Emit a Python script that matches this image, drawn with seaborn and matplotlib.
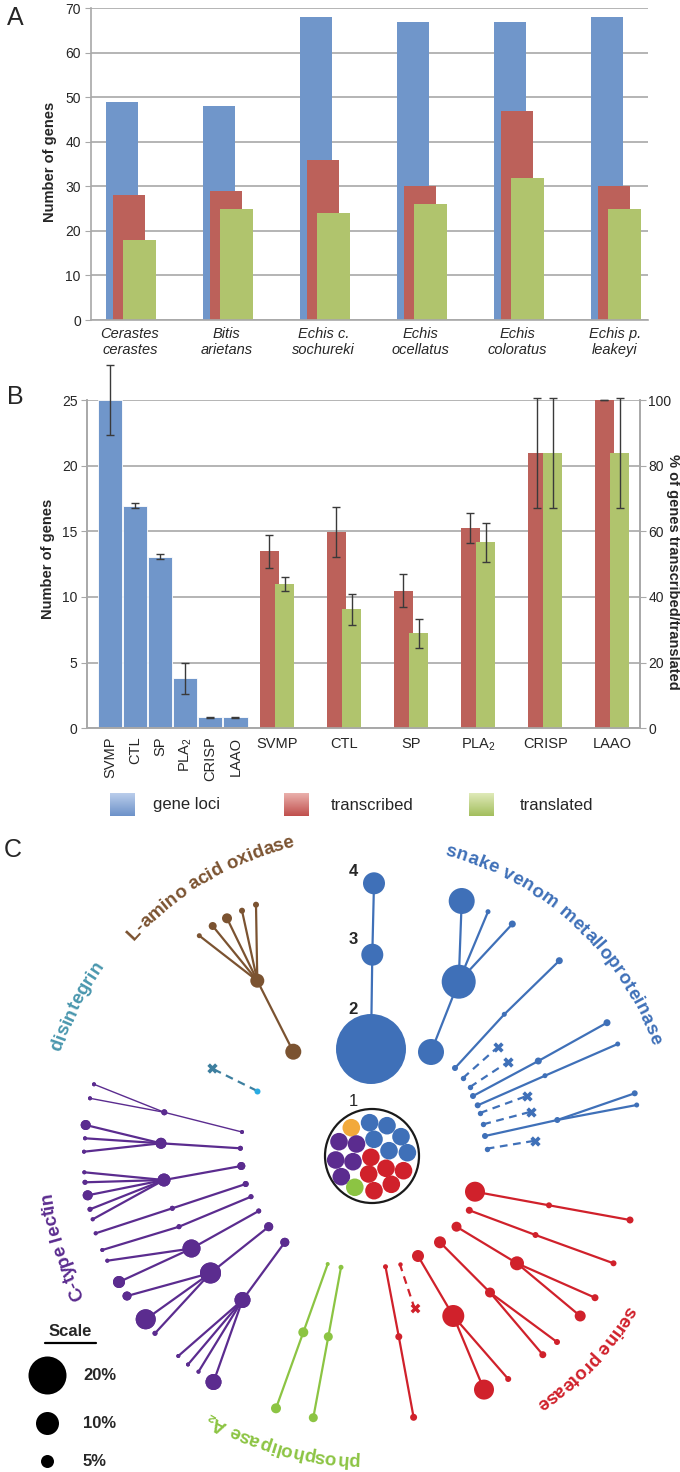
import numpy as np
import pandas as pd
import matplotlib
matplotlib.use("Agg")
import matplotlib.pyplot as plt
import seaborn as sns
from matplotlib.colors import LinearSegmentedColormap
from matplotlib.font_manager import FontProperties, findfont, get_font

# ---------------- panel A data
species = ["Cerastes\ncerastes", "Bitis\narietans", "Echis c.\nsochureki",
           "Echis\nocellatus", "Echis\ncoloratus", "Echis p.\nleakeyi"]
loci_a = [49, 48, 68, 67, 67, 68]
transcribed_a = [28, 29, 36, 30, 47, 30]
translated_a = [18, 25, 24, 26, 32, 25]

# ---------------- panel B data
toxins = ["SVMP", "CTL", "SP", "PLA$_2$", "CRISP", "LAAO"]
loci_b = [25.0, 16.95, 13.07, 3.8, 0.85, 0.85]
loci_b_err = [2.7, 0.2, 0.2, 1.2, 0.03, 0.03]
transcribed_pct = [53.9, 59.8, 41.9, 61.1, 83.8, 100.0]
transcribed_err = [5.0, 7.5, 5.1, 4.6, 16.8, 0.0]
translated_pct = [44.0, 36.2, 28.9, 56.6, 83.8, 83.8]
translated_err = [2.2, 4.7, 4.5, 6.0, 16.8, 16.8]
legend_names = ["gene loci", "transcribed", "translated"]

# ---------------- panel C data (network layout, pixel coordinates)
svmp_x = [374, 372.3, 371, 461.7, 458.7, 431, 488, 512.3, 455, 504.3, 559.3, 473, 538.3, 607,
          477.7, 545, 617.7, 485, 557.3, 634.7, 636.7]
svmp_y = [883.3, 954.7, 1049, 901, 981.7, 1052, 911.7, 924, 1068, 1014.3, 960.7, 1096, 1061, 1022.7,
          1105.3, 1075.7, 1044, 1136, 1120, 1093.3, 1105]
svmp_r = [11, 11, 35, 13, 17, 13, 2.5, 3.5, 3, 2.5, 3.5, 3, 3.5, 3.5, 3, 2.5, 2.5, 3, 3, 3, 2.5]
svmp_edges = [(0, 1), (1, 2), (5, 4), (4, 3), (4, 6), (4, 7), (8, 9), (9, 10), (11, 12), (12, 13),
              (14, 15), (15, 16), (17, 18), (18, 19), (18, 20)]
svmp_lost_x0 = [463, 470, 480, 483.3, 486.7]
svmp_lost_y0 = [1078, 1087, 1113, 1124.3, 1148.7]
svmp_lost_x1 = [498.3, 508.3, 526.7, 531, 535]
svmp_lost_y1 = [1046.7, 1061.7, 1096, 1111.7, 1140.7]

laao_x = [293.3, 257.3, 199.3, 212.7, 227, 242, 256]
laao_y = [1051.7, 980.7, 935.7, 926, 918.3, 910.7, 904.7]
laao_r = [8, 7, 2.5, 4, 5, 3, 3]
laao_edges = [(0, 1), (1, 2), (1, 3), (1, 4), (1, 5), (1, 6)]

dis_x = [256.7, 211.7]
dis_y = [1090.7, 1068.3]

ctl_x = [242, 164.3, 94, 90, 240.4, 161, 85.7, 85, 84, 241.3, 164, 84.3, 85, 87.7, 90, 92.7,
         95.7, 172.3, 245.7, 102.3, 179, 251, 191.5, 107.3, 119, 258.7, 210.5, 127, 145.7, 155,
         268.7, 242.5, 178.3, 188, 198.5, 213.5, 284.8]
ctl_y = [1132, 1112.3, 1084.3, 1098.3, 1148.3, 1143.3, 1125, 1138.3, 1151.7, 1166, 1180, 1172.3,
         1182.3, 1195.3, 1209.3, 1219.3, 1233.3, 1208.3, 1184, 1250, 1226.7, 1196.7, 1248.5,
         1260.7, 1282, 1211, 1273, 1296, 1319.3, 1333.3, 1226.7, 1300, 1356, 1364.5, 1371.7,
         1382, 1242.3]
ctl_r = [2, 3, 2, 2, 2.5, 5.5, 5, 2, 2, 4, 6.5, 2, 2.5, 5, 2.5, 2, 2, 2.5, 3, 2, 2.5, 2.5, 9, 2,
         6, 2.5, 10.5, 4.5, 10, 2.5, 4.5, 8, 2, 2, 2, 8, 4.5]
ctl_thin_edges = [(0, 1), (1, 2), (1, 3)]
ctl_edges = [(4, 5), (5, 6), (5, 7), (5, 8), (9, 10), (10, 11), (10, 12), (10, 13), (10, 14),
             (10, 15), (16, 17), (17, 18), (19, 20), (20, 21), (22, 23), (22, 24), (22, 25),
             (26, 27), (26, 28), (26, 29), (26, 30), (31, 32), (31, 33), (31, 34), (31, 35),
             (31, 36)]

pla_x = [327.7, 303.3, 276, 341, 328.3, 313.3]
pla_y = [1264, 1332.3, 1408.3, 1267.3, 1336.7, 1417.7]
pla_r = [2, 5, 5, 2.5, 4.5, 4.5]
pla_edges = [(0, 1), (1, 2), (3, 4), (4, 5)]

sp_x = [475, 549, 630, 469.3, 535.5, 613.5, 456.5, 517, 595, 580.2, 440, 490, 557, 542.8,
        418, 453.3, 484, 508.2, 385.5, 398.8, 413.6]
sp_y = [1191.7, 1205.3, 1220, 1210.3, 1235, 1263.3, 1226.7, 1263.3, 1297.7, 1316, 1242.3,
        1292.5, 1342, 1354.7, 1256, 1316, 1389.6, 1379, 1266.7, 1336.7, 1417.3]
sp_r = [10, 3, 3.5, 3.5, 3, 3, 5, 7, 3.5, 5.5, 6, 5, 3, 3.5, 6, 11, 10, 3, 2.5, 3.5, 3.5]
sp_edges = [(0, 1), (1, 2), (3, 4), (4, 5), (6, 7), (7, 8), (7, 9), (10, 11), (11, 12), (11, 13),
            (14, 15), (15, 16), (15, 17), (18, 19), (19, 20)]
sp_lost_x = [399.7, 414.5]
sp_lost_y = [1263.7, 1308.3]

pool_x = [351.3, 369.6, 387, 339, 356.5, 374, 401, 335.7, 353, 370.9, 389, 407.4, 341.3,
          368.7, 386, 403.5, 354.8, 374, 391.3]
pool_y = [1127.7, 1122.7, 1125.7, 1141.7, 1144, 1139.3, 1136.7, 1160, 1161.7, 1157.3, 1150.7,
          1152.7, 1176.7, 1174, 1168.3, 1170.7, 1187.3, 1190.7, 1184.3]
pool_family = ["LAAO", "SVMP", "SVMP", "CTL", "CTL", "SVMP", "SVMP", "CTL", "CTL", "SP", "SVMP",
               "SVMP", "CTL", "SP", "SP", "SP", "PLA2", "SP", "SP"]

scale_pct = ["20%", "10%", "5%"]
scale_r = [19, 11.5, 6.5]

# ---------------- style
sns.set_style("white")
plt.rcParams['font.family'] = ['Liberation Sans', 'DejaVu Sans']
plt.rcParams['mathtext.fontset'] = 'custom'
plt.rcParams['mathtext.rm'] = 'Liberation Sans'
plt.rcParams['mathtext.default'] = 'regular'

BLUE, RED, GREEN = "#7096CA", "#BC615A", "#B0C46D"
GRID = "#A8A8A8"
C_SVMP, C_LAAO, C_CTL, C_PLA, C_SP = "#3F70B8", "#7B5331", "#5B2C8F", "#8CC443", "#D0212B"
C_DIS, C_ORANGE = "#3D7F9F", "#F2A93B"
fam_col = {"SVMP": C_SVMP, "LAAO": C_LAAO, "CTL": C_CTL, "PLA2": C_PLA, "SP": C_SP}

W, H = 680, 1472
fig = plt.figure(figsize=(6.8, 14.72), dpi=100)
fig.patch.set_facecolor("white")

# background axes in pixel coordinates for panel C, labels and legend
axC = fig.add_axes([0, 0, 1, 1])
axC.set_xlim(0, W)
axC.set_ylim(H, 0)
axC.axis("off")

# ---------------- panel A
axA = fig.add_axes([90.5 / W, 1 - 320 / H, (647.6 - 90.5) / W, (320 - 8.3) / H])
axA.set_facecolor("none")
pos = np.arange(len(species))
for vals, off, col in [(loci_a, 0.0, BLUE), (transcribed_a, 0.072, RED), (translated_a, 0.182, GREEN)]:
    sns.barplot(x=pos + off, y=vals, native_scale=True, orient="x", width=0.337, color=col,
                saturation=1, linewidth=0, ax=axA)
axA.set_xlim(-0.325, 5.42)
axA.set_ylim(0, 70)
axA.set_yticks(range(0, 71, 10))
axA.set_xticks(pos + 0.08)
axA.set_xticklabels(species, style="italic", fontsize=10.5, linespacing=1.2)
axA.tick_params(axis="x", length=0, pad=5)
axA.tick_params(axis="y", length=4, color=GRID, labelsize=10, pad=3, left=True)
axA.yaxis.grid(True, color=GRID, lw=1.2)
axA.set_axisbelow(True)
for s in ["top", "right"]:
    axA.spines[s].set_visible(False)
for s in ["left", "bottom"]:
    axA.spines[s].set_color(GRID)
    axA.spines[s].set_linewidth(1.2)
axA.set_xlabel("")
axA.set_ylabel("")
axC.text(50, 162, "Number of genes", rotation=90, ha="center", va="center",
         fontsize=10.5, fontweight="bold")

# ---------------- panel B
axB = fig.add_axes([87.3 / W, 1 - 728.3 / H, (640 - 87.3) / W, 328.3 / H])
axB.set_facecolor("none")
blue_pos = np.arange(6)
green_pos = 6.96 + 2.68 * np.arange(6)
red_pos = green_pos - 0.62
sns.barplot(x=blue_pos, y=loci_b, native_scale=True, orient="x", width=0.96, color=BLUE,
            saturation=1, edgecolor="white", linewidth=0.6, ax=axB)
eb = axB.errorbar(blue_pos, loci_b, yerr=loci_b_err, fmt="none", ecolor="#3A3A3A",
                  elinewidth=1, capsize=3, capthick=1)
for a in list(eb.lines[1]) + list(eb.lines[2]):
    a.set_clip_on(False)
axB.set_ylim(0, 25)
axB.set_yticks(range(0, 26, 5))
axB.yaxis.grid(True, color=GRID, lw=1.2)
axB.set_axisbelow(True)

axB2 = axB.twinx()
axB2.set_facecolor("none")
sns.barplot(x=red_pos, y=transcribed_pct, native_scale=True, orient="x", width=0.76 / 2.68,
            color=RED, saturation=1, linewidth=0, ax=axB2)
sns.barplot(x=green_pos, y=translated_pct, native_scale=True, orient="x", width=0.76 / 2.68,
            color=GREEN, saturation=1, linewidth=0, ax=axB2)
for xp, yv, ye in [(red_pos, transcribed_pct, transcribed_err), (green_pos, translated_pct, translated_err)]:
    e2 = axB2.errorbar(xp, yv, yerr=ye, fmt="none", ecolor="#3A3A3A", elinewidth=1, capsize=3, capthick=1)
    for a in list(e2.lines[1]) + list(e2.lines[2]):
        a.set_clip_on(False)
axB2.set_ylim(0, 100)
axB2.set_yticks(range(0, 101, 20))
axB2.set_ylabel("")
axB2.grid(False)
for ax in (axB, axB2):
    ax.set_xlim(-0.92, 21.16)
    ax.set_xlabel("")
    ax.spines["top"].set_visible(False)
    for s in ["left", "right", "bottom"]:
        ax.spines[s].set_color(GRID)
        ax.spines[s].set_linewidth(1.2)
axB.set_ylabel("")
axB.tick_params(axis="y", length=4, color=GRID, labelsize=10, pad=3, left=True)
axB2.tick_params(axis="y", length=4, color=GRID, labelsize=10, pad=2, right=True)
axB.set_xticks(list(blue_pos) + list(green_pos - 0.31))
axB.set_xticklabels(toxins + toxins, fontsize=10.5)
axB.tick_params(axis="x", length=0, pad=6)
for t in axB.get_xticklabels()[:6]:
    t.set_rotation(90)
    t.set_va("top")
axC.text(48, 559, "Number of genes", rotation=90, ha="center", va="center",
         fontsize=10.5, fontweight="bold")
axC.text(673, 572, "% of genes transcribed/translated", rotation=-90, ha="center", va="center",
         fontsize=10.5, fontweight="bold")

# legend with shaded swatches
grad = np.linspace(0, 1, 40).reshape(-1, 1)
for name, x0, xt, light, dark in [(legend_names[0], 110, 153, "#BACDEB", "#6D92C9"),
                                  (legend_names[1], 284, 331, "#EAB0AC", "#C0504D"),
                                  (legend_names[2], 469, 520, "#DFEAB8", "#A3BE5E")]:
    cm = LinearSegmentedColormap.from_list(name, [light, dark])
    axC.imshow(grad, cmap=cm, extent=[x0, x0 + 24.5, 816, 793], aspect="auto", zorder=2)
    axC.text(xt, 805, name, fontsize=12, ha="left", va="center")
axC.set_xlim(0, W)
axC.set_ylim(H, 0)

# panel letters
for letter, lx, ly in [("A", 15, 18), ("B", 15, 397), ("C", 13, 850)]:
    axC.text(lx, ly, letter, fontsize=18, ha="center", va="center")

# ---------------- panel C
def px_s(r):
    return (2 * r * 0.72) ** 2


def draw_tree(xs, ys, rs, edges, color, lw=1.6):
    for i, j in edges:
        axC.plot([xs[i], xs[j]], [ys[i], ys[j]], color=color, lw=lw, zorder=3,
                 solid_capstyle="round")
    axC.scatter(xs, ys, s=[px_s(r) for r in rs], color=color, linewidths=0, zorder=4)


draw_tree(svmp_x, svmp_y, svmp_r, svmp_edges, C_SVMP)
for x0, y0, x1, y1 in zip(svmp_lost_x0, svmp_lost_y0, svmp_lost_x1, svmp_lost_y1):
    axC.plot([x0, x1], [y0, y1], color=C_SVMP, lw=1.6, ls=(0, (3.5, 2.5)), zorder=3)
    axC.scatter([x0], [y0], s=px_s(2.7), color=C_SVMP, linewidths=0, zorder=4)
    axC.scatter([x1], [y1], s=55, marker="X", color=C_SVMP, linewidths=0, zorder=4)

draw_tree(laao_x, laao_y, laao_r, laao_edges, C_LAAO)

axC.plot(dis_x, dis_y, color=C_DIS, lw=1.6, ls=(0, (3.5, 2.5)), zorder=3)
axC.scatter([dis_x[0]], [dis_y[0]], s=px_s(3), color="#29ABE2", linewidths=0, zorder=4)
axC.scatter([dis_x[1]], [dis_y[1]], s=55, marker="X", color=C_DIS, linewidths=0, zorder=4)

draw_tree(ctl_x, ctl_y, ctl_r, ctl_thin_edges, C_CTL, lw=1.0)
draw_tree(ctl_x, ctl_y, ctl_r, ctl_edges, C_CTL)
draw_tree(pla_x, pla_y, pla_r, pla_edges, C_PLA)
draw_tree(sp_x, sp_y, sp_r, sp_edges, C_SP)
axC.plot(sp_lost_x, sp_lost_y, color=C_SP, lw=1.6, ls=(0, (3.5, 2.5)), zorder=3)
axC.scatter([sp_lost_x[0]], [sp_lost_y[0]], s=px_s(2.2), color=C_SP, linewidths=0, zorder=4)
axC.scatter([sp_lost_x[1]], [sp_lost_y[1]], s=50, marker="X", color=C_SP, linewidths=0, zorder=4)

# ancestral pool (node 1)
pool_cols = [C_ORANGE if f == "LAAO" else fam_col[f] for f in pool_family]
axC.scatter(pool_x, pool_y, s=px_s(8.8), c=pool_cols, linewidths=0, zorder=4)
axC.scatter([372], [1156], s=px_s(47), facecolors="none", edgecolors="#1A1A1A", linewidths=1.6, zorder=5)

for lab, lx, ly, wt in [("4", 353, 872, "bold"), ("3", 353, 940, "bold"),
                        ("2", 353, 1009, "bold"), ("1", 353, 1102, "normal")]:
    axC.text(lx, ly, lab, fontsize=12, fontweight=wt, ha="center", va="center")

# scale
axC.text(70, 1332, "Scale", fontsize=12, fontweight="bold", ha="center", va="center")
axC.plot([45, 96], [1343, 1343], color="black", lw=1.6)
for lab, r, yy in zip(scale_pct, scale_r, [1375, 1422.7, 1460.7]):
    axC.scatter([47], [yy], s=px_s(r), color="black", linewidths=0, zorder=4)
    axC.text(83, yy + 1, lab, fontsize=12, fontweight="bold", ha="left", va="center")

# curved family labels
CX, CY = 365, 1150
font_main = get_font(findfont(FontProperties(family="Liberation Sans", weight="bold")))
font_fb = get_font(findfont(FontProperties(family="DejaVu Sans", weight="bold")))


def glyph_metrics(ch, size):
    # pen advance, left bearing and ink width in points
    f = font_main if font_main.get_char_index(ord(ch)) else font_fb
    f.set_size(size, 72)
    g = f.load_char(ord(ch))
    return g.linearHoriAdvance / 65536.0, g.horiBearingX / 64.0, g.width / 64.0


def arc_label(text, r, t0, t1, color, size=13.5):
    prop = FontProperties(family=["Liberation Sans", "DejaVu Sans"], weight="bold", size=size)
    pen = 0.0
    centers = []
    for ch in text:
        adv, lsb, inkw = glyph_metrics(ch, size)
        centers.append(pen + lsb + inkw / 2)
        pen += adv
    centers = np.array(centers)
    frac = (centers - centers[0]) / (centers[-1] - centers[0])
    for ch, f in zip(text, frac):
        if ch == " ":
            continue
        th = np.radians(t0 + (t1 - t0) * f)
        axC.text(CX + r * np.cos(th), CY + r * np.sin(th), ch, rotation=-np.degrees(th) - 90,
                 rotation_mode="anchor", ha="center", va="center", color=color,
                 fontproperties=prop)


arc_label("snake venom metalloproteinase", 310, -74, -21, C_SVMP)
arc_label("L-amino acid oxidase", 316, -136.8, -104, C_LAAO)
arc_label("disintegrin", 324, -161.2, -145.8, "#4A97AE")
arc_label("C-type lectin", 321, 153.6, 171.3, C_CTL)
arc_label("phospholipase A\u2082", 310, 92.2, 120, C_PLA)
arc_label("serine protease", 309, 31.6, 54.9, C_SP)

fig.savefig("out.png", dpi=100)
